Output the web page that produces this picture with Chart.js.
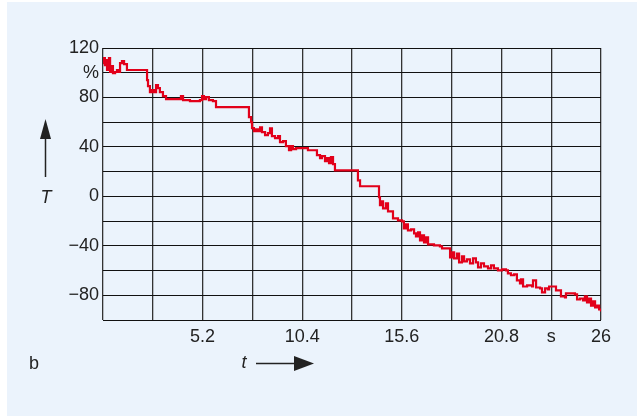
<!DOCTYPE html>
<html>
<head>
<meta charset="utf-8">
<script src="https://cdn.jsdelivr.net/npm/chart.js@4/dist/chart.umd.min.js"></script>
<style>
  html, body { margin: 0; padding: 0; background: #fff; }
  #panel { position: absolute; left: 7px; top: 2px; width: 630px; height: 414px; background: #ebf3fc; }
  #myChart { position: absolute; left: 0; top: 0; }
</style>
</head>
<body>
<div id="panel"></div>
<canvas id="myChart" width="637" height="416"></canvas>
<script>
// time in s
var time = [0, 0.05, 0.10, 0.16, 0.21, 0.26, 0.31, 0.37, 0.47, 0.52, 0.63, 0.73, 0.84, 0.89, 0.99, 1.10, 1.25,
	2.25, 2.30, 2.35, 2.45, 2.56, 2.66, 2.77, 2.87, 2.97, 3.13, 3.29, 3.97, 4.07, 4.18, 4.54, 5.06, 5.17, 5.27,
	5.38, 5.53, 5.74, 5.90, 7.52, 7.62, 7.73, 7.78, 7.88, 7.99, 8.09, 8.20, 8.30, 8.46, 8.61, 8.72, 8.82, 8.98,
	9.14, 9.24, 9.40, 9.55, 9.71, 9.82, 9.92, 10.08, 10.55, 10.70, 11.07, 11.17, 11.33, 11.43, 11.59, 11.69,
	11.80, 11.90, 12.01, 12.11, 13.21, 13.31, 13.42, 14.36, 14.41, 14.46, 14.57, 14.62, 14.77, 14.88, 15.09,
	15.14, 15.30, 15.40, 15.61, 15.71, 15.82, 15.92, 16.08, 16.24, 16.34, 16.45, 16.55, 16.65, 16.76, 16.86,
	16.97, 17.18, 17.28, 17.59, 17.70, 18.06, 18.12, 18.22, 18.33, 18.48, 18.59, 18.74, 18.85, 19.00, 19.16,
	19.32, 19.47, 19.58, 19.73, 19.89, 20.10, 20.26, 20.41, 20.62, 20.83, 21.04, 21.14, 21.30, 21.46, 21.61,
	21.77, 21.82, 21.93, 22.14, 22.40, 22.45, 22.61, 22.82, 22.92, 23.08, 23.23, 23.29, 23.60, 23.65, 23.86,
	23.91, 24.12, 24.17, 24.64, 24.75, 24.90, 25.06, 25.16, 25.27, 25.37, 25.48, 25.58, 25.69, 25.79, 25.90, 26.00];
// T in %
var temp = [107.8, 111.9, 106.2, 110.3, 102.2, 108.7, 111.9, 100.6, 105.4, 99.7, 100.6, 102.2, 100.6, 107.8, 109.5, 107, 102.2,
	102.2, 94, 89.2, 84.3, 85.9, 84.3, 90, 87.6, 84.3, 81.1, 78.7, 78.7, 81.1, 77.9, 77.1, 77.9, 81.1, 78.7,
	80.3, 77.9, 77.1, 72.2, 72.2, 64.1, 60, 55.2, 52.7, 54.3, 52.7, 55.9, 51.9, 49.5, 51.1, 55.1, 48.7, 47.1,
	48.7, 43.8, 44.6, 40.6, 37.3, 40.6, 38.2, 39, 39, 37.3, 37.3, 33.3, 30.9, 32.5, 28.4, 30.9,
	26.8, 31.7, 26, 21.1, 21.1, 13, 8.2, 8.2, -0.7, -7.2, -4, -9.7, -5.6, -12.1, -12.1,
	-17.8, -17.8, -19.4, -20.2, -25.9, -22.6, -27.5, -26.7, -29.9, -32.4, -29.1, -35.6, -31.6, -37.2, -33.2,
	-38.8, -38.8, -39.6, -40.5, -42.1, -42.1, -49.4, -45.3, -50.2, -46.2, -53.4, -48.6, -52.6, -51, -54.2,
	-50.2, -53.4, -57.5, -54.2, -56.7, -58.3, -55.8, -58.3, -59.9, -59.1, -59.9, -62.3, -63.8, -63.1, -67.9,
	-70.4, -67.2, -72.9, -72, -72.9, -68, -73.7, -74.5, -77.7, -74.5, -75.3, -72.9, -72.9, -76.1, -76.1,
	-81, -81.8, -78.5, -79.3, -83.4, -82.6, -84.2, -80.9, -85.8, -82.6, -88.3, -85, -89.9, -88.3, -91.5, -93.1];

var xTicks = [0, 2.6, 5.2, 7.8, 10.4, 13, 15.6, 18.2, 20.8, 23.4, 26];
var xTickLabels = ['', '', '5.2', '', '10.4', '', '15.6', '', '20.8', 's', '26'];
var yTicks = [-100, -80, -60, -40, -20, 0, 20, 40, 60, 80, 100, 120];
var yTickLabels = ['', '\u221280', '', '\u221240', '', '0', '', '40', '', '80', '%', '120'];

var points = time.map(function (t, i) { return { x: t, y: temp[i] }; });
var FONT = '"Liberation Sans", Arial, sans-serif';

var labelsPlugin = {
	id: 'axisLabels',
	afterDraw: function (chart) {
		var c = chart.ctx;
		c.save();
		c.fillStyle = '#222';
		c.strokeStyle = '#222';
		c.lineWidth = 1.5;
		// T with upward arrow
		c.beginPath(); c.moveTo(45.5, 177); c.lineTo(45.5, 137); c.stroke();
		c.beginPath(); c.moveTo(45.5, 119); c.lineTo(40, 139); c.lineTo(51, 139); c.closePath(); c.fill();
		c.font = 'italic 18px ' + FONT;
		c.textAlign = 'center';
		c.textBaseline = 'middle';
		c.fillText('T', 46, 198);
		// t with right arrow
		c.fillText('t', 244, 363);
		c.beginPath(); c.moveTo(256, 363.5); c.lineTo(296, 363.5); c.stroke();
		c.beginPath(); c.moveTo(314, 363.5); c.lineTo(294, 356); c.lineTo(294, 371); c.closePath(); c.fill();
		// panel letter
		c.font = '18px ' + FONT;
		c.fillText('b', 34, 364);
		c.restore();
	}
};

var ctx = document.getElementById('myChart').getContext('2d');
var myChart = new Chart(ctx, {
	type: 'line',
	data: {
		datasets: [
			{
				data: points,
				borderColor: '#e2001a',
				borderWidth: 2.2,
				pointRadius: 0,
				stepped: true,
				fill: false,
			},
		],
	},
	options: {
		responsive: false,
		animation: false,
		events: [],
		layout: { padding: { left: 0, right: 36, top: 48, bottom: 0 } },
		plugins: { legend: { display: false }, tooltip: { enabled: false } },
		scales: {
			x: {
				type: 'linear',
				min: 0,
				max: 26,
				afterBuildTicks: function (scale) {
					scale.ticks = xTicks.map(function (v) { return { value: v }; });
				},
				afterFit: function (scale) { scale.height = 96; },
				border: { display: false },
				grid: { color: '#333', lineWidth: 1.3, drawTicks: false },
				ticks: {
					autoSkip: false,
					maxRotation: 0,
					padding: 6,
					color: '#222',
					font: { family: FONT, size: 18 },
					callback: function (v, i) { return xTickLabels[i]; },
				},
			},
			y: {
				min: -100,
				max: 120,
				afterBuildTicks: function (scale) {
					scale.ticks = yTicks.map(function (v) { return { value: v }; });
				},
				afterFit: function (scale) { scale.width = 103; },
				border: { display: false },
				grid: { color: '#111', lineWidth: 1, drawTicks: false },
				ticks: {
					autoSkip: false,
					padding: 4,
					color: '#222',
					font: { family: FONT, size: 18 },
					callback: function (v, i) { return yTickLabels[i]; },
				},
			},
		},
	},
	plugins: [labelsPlugin],
});
</script>
</body>
</html>
